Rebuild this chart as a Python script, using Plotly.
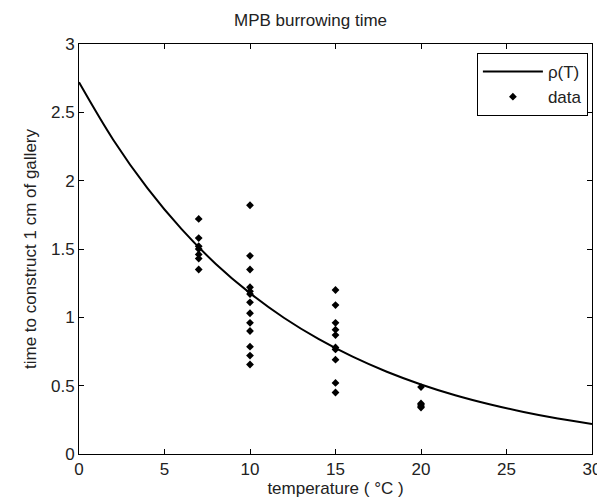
import plotly.graph_objects as go

# model curve rho(T)
curve_T = [0, 2, 4, 6, 8, 10, 12, 14, 16, 18, 20, 22, 24, 26, 28, 30]
curve_rho = [2.72, 2.30, 1.945, 1.645, 1.391, 1.177, 0.995, 0.842, 0.712,
             0.602, 0.509, 0.430, 0.364, 0.308, 0.260, 0.220]

# observed data
data_T = [7, 7, 7, 7, 7, 7, 7,
          10, 10, 10, 10, 10, 10, 10, 10, 10, 10, 10, 10, 10,
          15, 15, 15, 15, 15, 15, 15, 15, 15, 15,
          20, 20, 20, 20, 20]
data_time = [1.72, 1.58, 1.52, 1.50, 1.46, 1.43, 1.35,
             1.82, 1.45, 1.35, 1.22, 1.19, 1.17, 1.11, 1.03, 0.96, 0.90, 0.785, 0.72, 0.655,
             1.20, 1.09, 0.96, 0.91, 0.87, 0.78, 0.765, 0.69, 0.52, 0.45,
             0.49, 0.37, 0.36, 0.35, 0.34]

x_ticks = [0, 5, 10, 15, 20, 25, 30]
y_ticks = [0, 0.5, 1, 1.5, 2, 2.5, 3]

font = "Liberation Sans, Arial, sans-serif"
fs = 17

fig = go.Figure()
fig.add_trace(go.Scatter(x=curve_T, y=curve_rho, mode="lines", name="\u03c1(T)",
                         line=dict(color="black", width=2, shape="spline")))
fig.add_trace(go.Scatter(x=data_T, y=data_time, mode="markers", name="data",
                         marker=dict(symbol="diamond", size=6, color="black")))

axis_common = dict(showline=True, linecolor="black", linewidth=1, mirror="ticks",
                   ticks="inside", ticklen=5, tickcolor="black", showgrid=False,
                   zeroline=False, tickfont=dict(size=fs, color="#222", family=font))

fig.update_xaxes(range=[0, 30], tickvals=x_ticks, ticktext=[str(v) for v in x_ticks],
                 title=dict(text="temperature ( \u00b0C )", font=dict(size=fs, color="#222", family=font),
                            standoff=2),
                 **axis_common)
fig.update_yaxes(range=[0, 3], tickvals=y_ticks, ticktext=[f"{v:g}" for v in y_ticks],
                 title=dict(text="time to construct 1 cm of gallery",
                            font=dict(size=fs, color="#222", family=font), standoff=10),
                 **axis_common)

fig.update_layout(
    width=605, height=500, autosize=False,
    margin=dict(l=71, r=13, t=36, b=54),
    paper_bgcolor="white", plot_bgcolor="white",
    font=dict(family=font, color="#222", size=fs),
    title=dict(text="MPB burrowing time", x=0.5, xanchor="center", y=0.975, yanchor="middle",
               font=dict(size=fs, color="#222", family=font)),
    showlegend=True,
    legend=dict(x=0.992, y=0.978, xanchor="right", yanchor="top", bgcolor="white",
                bordercolor="black", borderwidth=1, font=dict(size=fs, family=font),
                itemwidth=60, tracegroupgap=0),
)

fig.write_html("out.html")
